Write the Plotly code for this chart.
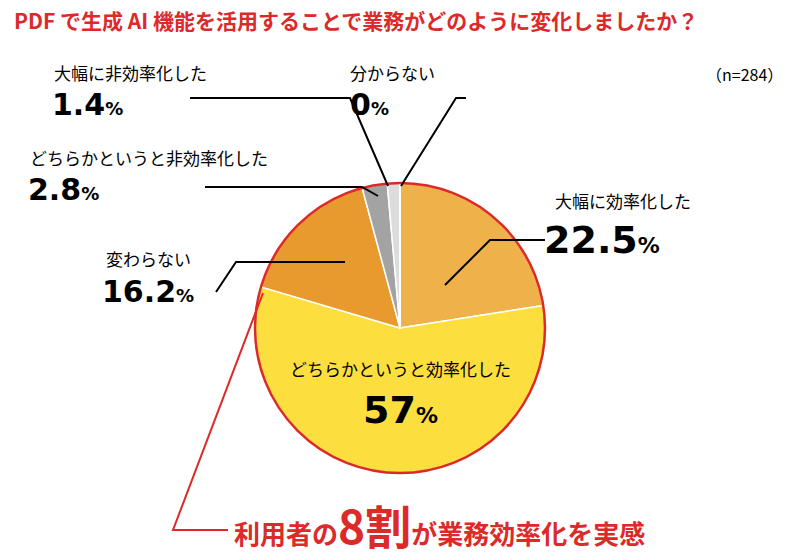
import plotly.graph_objects as go

labels = ["大幅に効率化した", "どちらかというと効率化した", "変わらない",
          "どちらかというと非効率化した", "大幅に非効率化した", "分からない"]
values = [22.5, 57.0, 16.2, 2.8, 1.4, 0.0]
colors = ["#EFB24A", "#FCDE3E", "#E89A2F", "#A3A3A3", "#DCDCDC", "#FFFFFF"]
pct_text = ["22.5", "57", "16.2", "2.8", "1.4", "0"]

RED = "#DC2A2A"
JP = "Noto Sans CJK JP"
NUM = "DejaVu Sans"
OFF = 8  # page body margin pushes the plot right/down

W, H = 800, 556
fig = go.Figure()
fig.add_trace(go.Pie(
    labels=labels, values=values, sort=False, direction="clockwise", rotation=0,
    marker=dict(colors=colors, line=dict(color="white", width=1.5)),
    textinfo="none", showlegend=False, hoverinfo="label+percent",
    domain=dict(x=[(255 - OFF) / W, (545 - OFF) / W],
                y=[1 - (473 - OFF) / H, 1 - (183 - OFF) / H]),
))

shapes = [dict(type="circle", xref="x", yref="y", x0=255, x1=545, y0=183, y1=473,
               line=dict(color=RED, width=2.5), layer="above")]

def path(pts, color="black", width=2):
    d = "M " + " L ".join(f"{x},{y}" for x, y in pts)
    return dict(type="path", xref="x", yref="y", path=d, line=dict(color=color, width=width))

shapes += [
    path([(190, 98), (350, 98), (388, 186)]),
    path([(466, 98), (456, 98), (401, 186)]),
    path([(205, 187), (362, 187), (378, 196)]),
    path([(216, 292), (236, 262), (345, 262)]),
    path([(545, 240), (490, 240), (445, 285)]),
    path([(263, 293), (173, 530), (228, 530)], color=RED, width=2),
]

ann = []
def txt(x, y, s, size=17, anchor="left", family=JP, color="black"):
    ann.append(dict(x=x, y=y, xref="x", yref="y", text=s, showarrow=False,
                    xanchor=anchor, yanchor="middle",
                    font=dict(family=family, size=size, color=color)))

def pct(x, y, i, size=30, anchor="left"):
    txt(x, y, f"<b>{pct_text[i]}<span style='font-size:{int(size*0.6)}px'>%</span></b>",
        size=size, anchor=anchor, family=NUM)

txt(12, 20, "<b>PDF で生成 AI 機能を活用することで業務がどのように変化しましたか？</b>",
    size=21, color=RED)
txt(785, 74, "（n=284）", size=16, anchor="right")

txt(52, 72, labels[4]); pct(50, 104, 4)
txt(348, 72, labels[5]); pct(348, 104, 5)
txt(28, 157, labels[3]); pct(26, 189, 3)
txt(104, 258, labels[2]); pct(100, 291, 2)
txt(553, 200, labels[0]); pct(542, 240, 0, size=38)
txt(400, 368, labels[1], anchor="center"); pct(400, 410, 1, size=38, anchor="center")

txt(232, 524, "<b>利用者の<span style='font-size:46px'>8割</span>が業務効率化を実感</b>",
    size=26, color=RED)

fig.update_layout(
    width=W, height=H, margin=dict(l=0, r=0, t=0, b=0),
    paper_bgcolor="white", plot_bgcolor="rgba(0,0,0,0)",
    xaxis=dict(range=[OFF, W + OFF], visible=False, fixedrange=True),
    yaxis=dict(range=[H + OFF, OFF], visible=False, fixedrange=True),
    shapes=shapes, annotations=ann,
)
fig.write_html("out.html")
